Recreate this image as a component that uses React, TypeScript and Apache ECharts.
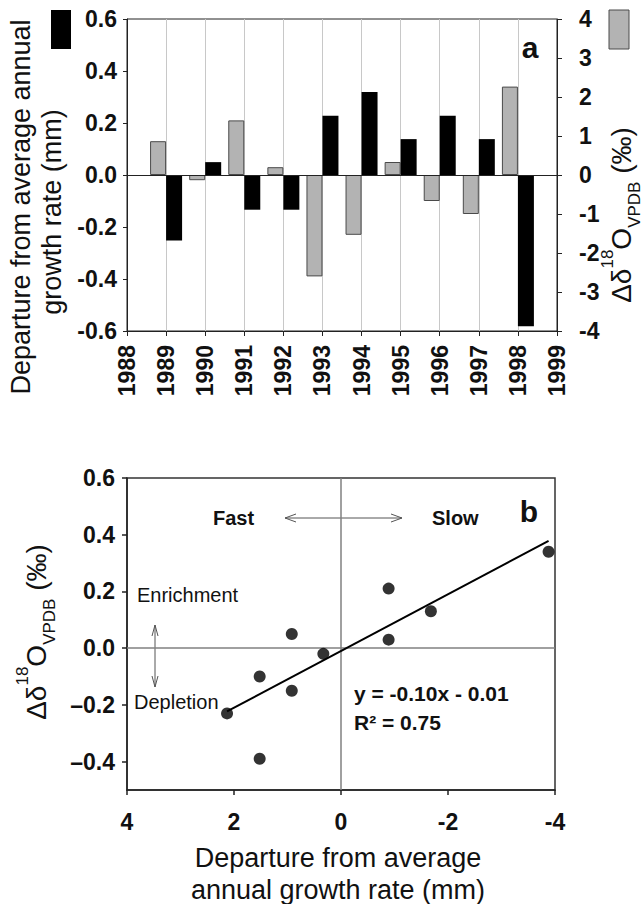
import React, { useEffect, useRef } from 'react';
import * as echarts from 'echarts';

// Year axis of panel a (ticks at every year, bars centred on them)
const yearLabels = ['1988', '1989', '1990', '1991', '1992', '1993', '1994', '1995', '1996', '1997', '1998', '1999'];
const sampleYears = ['1989', '1990', '1991', '1992', '1993', '1994', '1995', '1996', '1997', '1998'];

// Departure from average annual growth rate (mm), one value per sample year
const growthDeparture = [-1.68, 0.33, -0.89, -0.89, 1.52, 2.13, 0.92, 1.52, 0.92, -3.88];
// Departure of δ18O (‰ VPDB), one value per sample year
const isotopeDeparture = [0.13, -0.02, 0.21, 0.03, -0.39, -0.23, 0.05, -0.1, -0.15, 0.34];

// Least-squares fit shown in panel b
const fitSlope = -0.1;
const fitIntercept = -0.01;
const fitR2 = 0.75;

// Tick values
const leftTicksA = { min: -0.6, max: 0.6, step: 0.2 };
const rightTicksA = { min: -4, max: 4, step: 1 };
const xTicksB = { min: -4, max: 4, step: 2 };
const yRangeB = { min: -0.5, max: 0.6 };
const yTicksB = [-0.4, -0.2, 0, 0.2, 0.4, 0.6];

const FONT = "'Liberation Sans', Arial, Helvetica, sans-serif";
const INK = '#111';
const GRAY_BAR = '#b3b3b3';

const fmt1 = (v: number) => (Math.abs(v) < 1e-9 ? '0.0' : v.toFixed(1));

function buildOption() {
  const byYear = (vals: number[]) =>
    yearLabels.map((y) => {
      const i = sampleYears.indexOf(y);
      return i >= 0 ? vals[i] : null;
    });

  const scatterData = growthDeparture.map((g, i) => [g, isotopeDeparture[i]]);
  const gMax = Math.max(...growthDeparture);
  const gMin = Math.min(...growthDeparture);
  const fitLine = [gMax, gMin].map((x) => [x, fitSlope * x + fitIntercept]);

  const tickLabel = { color: INK, fontFamily: FONT, fontWeight: 'bold' as const, fontSize: 23 };

  const isoRich = {
    m: { fontSize: 28, fontFamily: FONT, lineHeight: 44, verticalAlign: 'middle', fill: INK, color: INK },
    sup: { fontSize: 17, fontFamily: FONT, lineHeight: 14, verticalAlign: 'top', fill: INK, color: INK },
    sub: { fontSize: 17, fontFamily: FONT, lineHeight: 30, verticalAlign: 'bottom', fill: INK, color: INK },
  };
  const isoTitle = '{m|Δδ}{sup|18}{m|O}{sub|VPDB}{m| (‰)}';

  const plain = (
    text: string,
    x: number,
    y: number,
    size: number,
    weight: string,
    align: string,
    rotation = 0
  ) => ({
    type: 'text',
    x,
    y,
    rotation,
    silent: true,
    style: {
      text,
      font: `${weight} ${size}px ${FONT}`,
      fill: INK,
      align,
      verticalAlign: 'middle',
      textAlign: align,
      textVerticalAlign: 'middle',
    },
  });

  const seg = (x1: number, y1: number, x2: number, y2: number) => ({
    type: 'line',
    silent: true,
    shape: { x1, y1, x2, y2 },
    style: { stroke: '#555', lineWidth: 1 },
  });
  const head = (pts: number[][]) => ({
    type: 'polyline',
    silent: true,
    shape: { points: pts },
    style: { stroke: '#555', lineWidth: 1, fill: 'none' },
  });

  return {
    animation: false,
    backgroundColor: '#fff',
    grid: [
      { left: 127, top: 19, width: 430, height: 312, show: true, borderColor: '#222', borderWidth: 1 },
      { left: 127, top: 478, width: 428, height: 312, show: true, borderColor: '#333', borderWidth: 1.5 },
    ],
    xAxis: [
      {
        type: 'category',
        gridIndex: 0,
        data: yearLabels,
        boundaryGap: false,
        axisLine: { show: true, onZero: false, lineStyle: { color: '#222', width: 1 } },
        axisTick: { show: true, interval: 0, length: 5, inside: false, lineStyle: { color: '#222' } },
        axisLabel: { ...tickLabel, interval: 0, rotate: 90, margin: 14 },
        splitLine: { show: true, interval: 0, lineStyle: { color: '#c8c8c8', width: 1 } },
      },
      {
        type: 'value',
        gridIndex: 1,
        min: xTicksB.min,
        max: xTicksB.max,
        interval: xTicksB.step,
        inverse: true,
        axisLine: { show: true, onZero: false, lineStyle: { color: '#222', width: 1.5 } },
        axisTick: { show: true, length: 5, inside: false, lineStyle: { color: '#222', width: 1.5 } },
        axisLabel: { ...tickLabel, margin: 20, formatter: (v: number) => String(v) },
        splitLine: { show: false },
      },
    ],
    yAxis: [
      {
        type: 'value',
        gridIndex: 0,
        position: 'left',
        min: leftTicksA.min,
        max: leftTicksA.max,
        interval: leftTicksA.step,
        axisLine: { show: true, onZero: false, lineStyle: { color: '#222', width: 1 } },
        axisTick: { show: true, length: 4, inside: false, lineStyle: { color: '#222' } },
        axisLabel: { ...tickLabel, margin: 10, formatter: fmt1 },
        splitLine: { show: false },
      },
      {
        type: 'value',
        gridIndex: 0,
        position: 'right',
        min: rightTicksA.min,
        max: rightTicksA.max,
        interval: rightTicksA.step,
        axisLine: { show: true, onZero: false, lineStyle: { color: '#222', width: 1 } },
        axisTick: { show: true, length: 5, inside: false, lineStyle: { color: '#222' } },
        axisLabel: { ...tickLabel, margin: 22, formatter: (v: number) => String(v) },
        splitLine: { show: false },
      },
      {
        type: 'value',
        gridIndex: 1,
        position: 'left',
        min: yRangeB.min,
        max: yRangeB.max,
        axisLine: { show: true, onZero: false, lineStyle: { color: '#222', width: 1.5 } },
        axisTick: { show: true, length: 5, inside: false, customValues: yTicksB, lineStyle: { color: '#222', width: 1.5 } },
        axisLabel: {
          ...tickLabel,
          margin: 12,
          customValues: yTicksB,
          formatter: (v: number) => (v < -1e-9 ? '\u2013' + Math.abs(v).toFixed(1) : fmt1(v)),
        },
        splitLine: { show: false },
      },
    ],
    series: [
      {
        name: 'δ18O departure',
        type: 'bar',
        xAxisIndex: 0,
        yAxisIndex: 0,
        data: byYear(isotopeDeparture),
        barWidth: 16,
        barGap: '0%',
        itemStyle: { color: GRAY_BAR, borderColor: '#4a4a4a', borderWidth: 1 },
        z: 3,
      },
      {
        name: 'Growth departure',
        type: 'bar',
        xAxisIndex: 0,
        yAxisIndex: 1,
        data: byYear(growthDeparture),
        barWidth: 16,
        barGap: '0%',
        itemStyle: { color: '#000' },
        z: 3,
        markLine: {
          silent: true,
          symbol: ['none', 'none'],
          label: { show: false },
          lineStyle: { color: '#222', width: 1, type: 'solid' },
          data: [{ yAxis: 0 }],
        },
      },
      {
        name: 'Samples',
        type: 'scatter',
        xAxisIndex: 1,
        yAxisIndex: 2,
        data: scatterData,
        symbolSize: 12,
        itemStyle: { color: '#000' },
        z: 4,
        markLine: {
          silent: true,
          symbol: ['none', 'none'],
          label: { show: false },
          lineStyle: { color: '#808080', width: 1.5, type: 'solid' },
          data: [{ xAxis: 0 }, { yAxis: 0 }],
          z: 1,
        },
      },
      {
        name: 'Fit',
        type: 'line',
        xAxisIndex: 1,
        yAxisIndex: 2,
        data: fitLine,
        showSymbol: false,
        symbol: 'none',
        lineStyle: { color: '#000', width: 2 },
        z: 3,
      },
    ],
    graphic: [
      // panel a: series keys beside the two value axes
      { type: 'rect', silent: true, shape: { x: 51, y: 10, width: 20, height: 39 }, style: { fill: '#000' } },
      {
        type: 'rect',
        silent: true,
        shape: { x: 609, y: 10, width: 20, height: 39 },
        style: { fill: GRAY_BAR, stroke: '#4a4a4a', lineWidth: 1 },
      },
      plain('a', 530, 47, 30, 'bold', 'center'),
      plain('Departure from average annual', 21, 207, 27, 'normal', 'center', Math.PI / 2),
      plain('growth rate (mm)', 52, 212, 27, 'normal', 'center', Math.PI / 2),
      {
        type: 'text',
        x: 621,
        y: 215,
        rotation: Math.PI / 2,
        silent: true,
        style: {
          text: isoTitle,
          rich: isoRich,
          fill: INK,
          align: 'center',
          verticalAlign: 'middle',
          textAlign: 'center',
          textVerticalAlign: 'middle',
        },
      },
      // panel b
      plain('b', 529, 511, 30, 'bold', 'center'),
      {
        type: 'text',
        x: 36,
        y: 632,
        rotation: Math.PI / 2,
        silent: true,
        style: {
          text: isoTitle,
          rich: isoRich,
          fill: INK,
          align: 'center',
          verticalAlign: 'middle',
          textAlign: 'center',
          textVerticalAlign: 'middle',
        },
      },
      plain('Departure from average', 338, 858, 27, 'normal', 'center'),
      plain('annual growth rate (mm)', 338, 890, 27, 'normal', 'center'),
      plain('Fast', 213, 518, 20, 'bold', 'left'),
      plain('Slow', 432, 518, 20, 'bold', 'left'),
      seg(285, 518, 402, 518),
      head([[296, 514], [285, 518], [296, 522]]),
      head([[391, 514], [402, 518], [391, 522]]),
      plain('Enrichment', 137, 595, 20, 'normal', 'left'),
      plain('Depletion', 134, 702, 20, 'normal', 'left'),
      seg(155, 625, 155, 687),
      head([[152, 636], [155, 625], [158, 636]]),
      head([[152, 676], [155, 687], [158, 676]]),
      plain(
        `y = ${fitSlope.toFixed(2)}x - ${Math.abs(fitIntercept).toFixed(2)}`,
        354,
        693,
        21,
        'bold',
        'left'
      ),
      plain(`R\u00B2 = ${fitR2.toFixed(2)}`, 354, 722, 21, 'bold', 'left'),
    ],
  };
}

export default function App() {
  const ref = useRef<HTMLDivElement>(null);
  useEffect(() => {
    document.body.style.margin = '0';
    const chart = echarts.init(ref.current as HTMLDivElement, null, { renderer: 'svg' });
    chart.setOption(buildOption() as any);
    return () => chart.dispose();
  }, []);
  return <div ref={ref} style={{ width: 644, height: 904, background: '#fff' }} />;
}
